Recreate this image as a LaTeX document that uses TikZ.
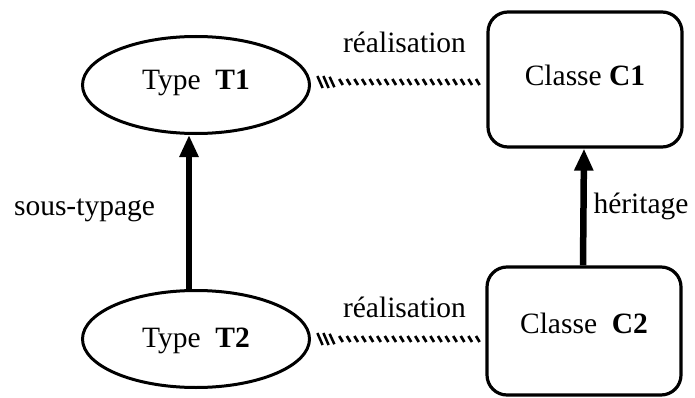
\documentclass[tikz,border=0pt]{standalone}
\usepackage{fontspec}
\setmainfont{Liberation Serif}
\usetikzlibrary{shapes.geometric,arrows.meta,decorations.markings}

\tikzset{
  typenode/.style={ellipse, draw, line width=3pt, inner sep=0pt,
    minimum width=227pt, minimum height=97pt, text height=19.5pt},
  classnode/.style={rectangle, draw, line width=3.2pt, rounded corners=20pt,
    inner sep=0pt, minimum width=194pt, text height=19.5pt},
  lbl/.style={anchor=base, inner sep=0pt},
  inherit/.style={line width=6.5pt,
    -{Triangle[length=22pt,width=18pt]}},
  realise/.style={decorate, decoration={markings,
    mark=at position 9pt with {\draw[line width=2.5pt] (-2.6,6) -- (2.6,-6);},
    mark=at position 15pt with {\draw[line width=2.5pt] (-2.6,6) -- (2.6,-6);},
    mark=at position 21pt with {\draw[line width=2.5pt] (-2.4,5.2) -- (2.4,-5.2);},
    mark=between positions 30pt and -1pt step 7.6pt with
      {\draw[line width=2.7pt] (-1.8,3) -- (1.8,-3);}}}
}

\begin{document}
\begin{tikzpicture}[x=1pt,y=1pt,font=\fontsize{29.5}{34}\selectfont]
\useasboundingbox (0,0) rectangle (695,397);

% types
\node[typenode, text depth=9.5pt] (t1) at (196,312) {Type~\ \textbf{T1}};
\node[typenode, text depth=3.5pt] (t2) at (196,58) {Type~\ \textbf{T2}};

% classes
\node[classnode, minimum height=135pt, text depth=8pt] (c1) at (585,317.5)
  {Classe~\textbf{C1}};
\node[classnode, minimum height=128pt, text depth=15.5pt] (c2) at (584,66)
  {Classe~\ \textbf{C2}};

% sub-typing and inheritance
\draw[inherit] ([xshift=-7pt]t2.north) -- ([xshift=-7pt]t1.south);
\draw[inherit] ([xshift=-1pt]c2.north) -- ([xshift=-1pt]c1.south);

% realisation links
\path[realise] ([yshift=3pt]t1.east) -- ([yshift=3pt]t1.east -| c1.west);
\path[realise] (t2.east) -- (t2.east -| c2.west);

% labels
\node[lbl] (lst) at (84.5,182) {sous-typage};
\node[lbl] (lh) at (641,184) {héritage};
\node[lbl] (lr1) at (404.5,344) {réalisation};
\node[lbl] (lr2) at (404.5,80) {réalisation};
\end{tikzpicture}
\end{document}
